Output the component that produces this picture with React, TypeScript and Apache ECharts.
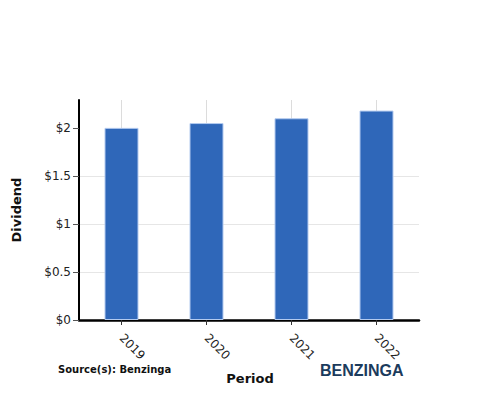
import React, { useEffect, useRef } from "react";
import * as echarts from "echarts";

const categories = ["2019", "2020", "2021", "2022"];
const dividends = [2.0, 2.05, 2.1, 2.18];
const yTicks = [0, 0.5, 1, 1.5, 2];

export default function App() {
  const ref = useRef<HTMLDivElement>(null);
  useEffect(() => {
    if (!ref.current) return;
    const chart = echarts.init(ref.current, null, { renderer: "svg" });
    const font = "DejaVu Sans";
    chart.setOption({
      animation: false,
      backgroundColor: "#fff",
      textStyle: { fontFamily: font },
      grid: { left: 79, right: 81, top: 100, bottom: 80, containLabel: false },
      xAxis: {
        type: "category",
        data: categories,
        axisLine: { show: true, lineStyle: { color: "#000", width: 2.5 } },
        axisTick: { show: true, alignWithLabel: true, length: 5, lineStyle: { color: "#333" } },
        axisLabel: { rotate: -45, color: "#222", fontSize: 12, fontFamily: font, margin: 16 },
        splitLine: { show: false },
        boundaryGap: true,
      },
      yAxis: {
        type: "value",
        min: 0,
        max: 2.29,
        interval: 0.5,
        axisLine: { show: true, lineStyle: { color: "#000", width: 2 } },
        axisTick: { show: true, length: 6, customValues: yTicks, lineStyle: { color: "#555", width: 1 } },
        axisLabel: {
          color: "#222",
          fontSize: 12,
          fontFamily: font,
          margin: 8,
          customValues: yTicks,
          formatter: (v: number) => "$" + v,
        },
        splitLine: { show: true, showMaxLine: false, lineStyle: { color: "#e6e6e6", width: 1 } },
      },
      series: [
        {
          type: "bar",
          data: dividends,
          barWidth: "40%",
          itemStyle: { color: "#2f67b9", borderColor: "#b3caef", borderWidth: 1 },
          markLine: {
            silent: true,
            symbol: "none",
            label: { show: false },
            z: 0,
            lineStyle: { color: "#dcdcdc", width: 1, type: "solid" },
            data: categories.map((c) => ({ xAxis: c })),
          },
        },
      ],
      graphic: [
        {
          type: "text",
          x: 16,
          y: 210,
          rotation: Math.PI / 2,
          style: {
            text: "Dividend",
            font: `bold 13px "${font}"`,
            fill: "#111",
            align: "center",
            verticalAlign: "middle",
          },
        },
        {
          type: "text",
          x: 250,
          y: 378,
          style: {
            text: "Period",
            font: `bold 13px "${font}"`,
            fill: "#111",
            align: "center",
            verticalAlign: "middle",
          },
        },
        {
          type: "text",
          x: 58,
          y: 369,
          style: {
            text: "Source(s): Benzinga",
            font: `bold 10px "${font}"`,
            fill: "#111",
            align: "left",
            verticalAlign: "middle",
          },
        },
        {
          type: "text",
          x: 320,
          y: 370,
          style: {
            text: "BENZINGA",
            font: `bold 16px "Liberation Sans"`,
            fill: "#1b3b5c",
            align: "left",
            verticalAlign: "middle",
          },
        },
      ],
    });
    return () => chart.dispose();
  }, []);
  return (
    <div
      ref={ref}
      style={{ width: 500, height: 400, position: "absolute", left: 0, top: 0 }}
    />
  );
}
